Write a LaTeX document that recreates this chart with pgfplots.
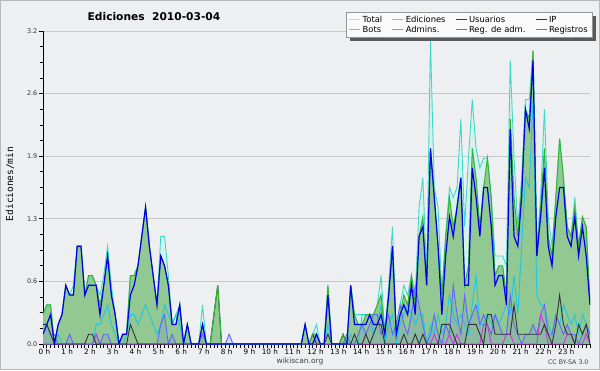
\documentclass[border=0pt]{standalone}
\usepackage{pgfplots}
\pgfplotsset{compat=1.18}
\usepackage{pgfplotstable}
\usepackage{fontspec}
\setmainfont{DejaVu Sans}
\newfontfamily\monofont{DejaVu Sans Mono}
\pgfdeclarelayer{bgl}
\pgfsetlayers{bgl,main}
\definecolor{bg}{RGB}{238,239,241}
\definecolor{framec}{RGB}{185,185,185}
\definecolor{gridc}{RGB}{200,200,200}
\definecolor{legdraw}{RGB}{150,150,150}
\definecolor{legfill}{RGB}{250,250,250}
\definecolor{shadowc}{RGB}{90,90,90}
\definecolor{totline}{RGB}{64,216,200}
\definecolor{totfill}{RGB}{214,242,236}
\definecolor{totleg}{RGB}{170,228,222}
\definecolor{ediline}{RGB}{50,180,50}
\definecolor{edifill}{RGB}{146,201,146}
\definecolor{edileg}{RGB}{130,205,130}
\definecolor{usu}{RGB}{0,0,230}
\definecolor{usuleg}{RGB}{40,40,230}
\definecolor{ipc}{RGB}{50,50,50}
\definecolor{adm}{RGB}{30,200,225}
\definecolor{regc}{RGB}{100,100,255}
\definecolor{regadm}{RGB}{210,50,230}
\definecolor{bots}{RGB}{255,150,50}
\newcommand{\hl}[1]{\llap{#1}\ h}
\pgfplotstableread{
i T E U P A R M
0 0.3 0.3 0.1 0.2 0 0.2 0
1 0.4 0.4 0.2 0.2 0 0.2 0
2 0.4 0.4 0.3 0.1 0 0.1 0
3 0 0 0 0 0 0.1 0
4 0.2 0.2 0.2 0 0.1 0 0
5 0.3 0.3 0.3 0 0 0 0
6 0.6 0.6 0.6 0 0 0 0
7 0.5 0.5 0.5 0 0 0.1 0
8 0.6 0.5 0.5 0 0 0 0
9 1.0 1.0 1.0 0 0 0 0
10 1.0 1.0 1.0 0 0 0 0
11 0.5 0.5 0.5 0 0 0 0
12 0.7 0.7 0.6 0.1 0 0 0
13 0.7 0.7 0.6 0.1 0 0 0
14 0.6 0.6 0.6 0 0.2 0.1 0.1
15 0.5 0.4 0.3 0 0.2 0 0
16 0.7 0.6 0.6 0 0.3 0.1 0
17 1.0 0.9 0.9 0 0.4 0.1 0
18 0.6 0.5 0.5 0 0.2 0 0
19 0.3 0.3 0.3 0 0.1 0 0
20 0 0 0 0 0 0 0
21 0.1 0.1 0.1 0 0 0 0
22 0.1 0.1 0.1 0 0.1 0 0
23 0.7 0.7 0.5 0.2 0.3 0 0
24 0.7 0.7 0.6 0.1 0.3 0 0
25 0.8 0.8 0.8 0 0.2 0 0
26 1.1 1.1 1.1 0 0.3 0 0
27 1.4 1.4 1.4 0 0.4 0 0
28 1.0 1.0 1.0 0 0.3 0 0
29 0.7 0.7 0.7 0 0.2 0 0
30 0.4 0.4 0.4 0 0.1 0 0
31 1.1 0.9 0.9 0 0.2 0.2 0
32 1.1 0.8 0.8 0 0.4 0.3 0
33 0.7 0.6 0.6 0 0.3 0 0
34 0.2 0.2 0.2 0 0.2 0.1 0
35 0.3 0.2 0.2 0 0.3 0 0
36 0.4 0.4 0.4 0 0.2 0 0
37 0 0 0 0 0 0 0
38 0.2 0.2 0.2 0 0 0 0
39 0 0 0 0 0 0 0
40 0 0 0 0 0 0 0
41 0 0 0 0 0 0 0
42 0.4 0.2 0.2 0 0.2 0.1 0
43 0 0 0 0 0 0 0
44 0 0 0 0 0 0 0
45 0.3 0.3 0 0.3 0 0 0
46 0.6 0.6 0 0.6 0 0 0
47 0 0 0 0 0 0 0
48 0 0 0 0 0 0 0
49 0 0 0 0 0 0.1 0
50 0 0 0 0 0 0 0
51 0 0 0 0 0 0 0
52 0 0 0 0 0 0 0
53 0 0 0 0 0 0 0
54 0 0 0 0 0 0 0
55 0 0 0 0 0 0 0
56 0 0 0 0 0 0 0
57 0 0 0 0 0 0 0
58 0 0 0 0 0 0 0
59 0 0 0 0 0 0 0
60 0 0 0 0 0 0 0
61 0 0 0 0 0 0 0
62 0 0 0 0 0 0 0
63 0 0 0 0 0 0 0
64 0 0 0 0 0 0 0
65 0 0 0 0 0 0 0
66 0 0 0 0 0 0 0
67 0 0 0 0 0 0 0
68 0 0 0 0 0 0 0
69 0.2 0.2 0.2 0 0 0 0
70 0 0 0 0 0 0 0
71 0.1 0.1 0 0.1 0 0 0
72 0.2 0.1 0.1 0 0.1 0.1 0
73 0 0 0 0 0 0 0
74 0 0 0 0 0 0 0
75 0.6 0.6 0.5 0.1 0.2 0 0
76 0 0 0 0 0 0 0
77 0 0 0 0 0 0 0
78 0 0 0 0 0 0 0
79 0.1 0.1 0 0.1 0 0 0
80 0 0 0 0 0 0.1 0
81 0.6 0.6 0.6 0 0.1 0 0
82 0.3 0.3 0.2 0.1 0 0 0
83 0.3 0.2 0.2 0 0 0.1 0
84 0.3 0.2 0.2 0 0.3 0.2 0
85 0.3 0.3 0.2 0.1 0.3 0.1 0
86 0.3 0.3 0.3 0 0.3 0.2 0
87 0.3 0.3 0.2 0.1 0.1 0.3 0
88 0.4 0.4 0.2 0.2 0.2 0.3 0
89 0.7 0.5 0.3 0.2 0.4 0.1 0
90 0.1 0.1 0.1 0 0 0.2 0
91 0.6 0.5 0.5 0 0.2 0.3 0
92 1.2 1.0 1.0 0 0.3 0.1 0
93 0.1 0.1 0.1 0 0 0.2 0
94 0.4 0.3 0.3 0 0.2 0.4 0
95 0.6 0.5 0.4 0.1 0.3 0.2 0
96 0.5 0.4 0.3 0 0.4 0.1 0
97 0.7 0.7 0.6 0 0.3 0.3 0
98 0.5 0.4 0.3 0.1 0.2 0.6 0
99 1.4 1.1 1.1 0 0.3 0.4 0
100 1.7 1.3 1.2 0.1 0.3 0.2 0
101 0.7 0.6 0.6 0 0 0 0
102 3.1 2.0 2.0 0 0.2 0.1 0
103 1.6 1.5 1.5 0 0.1 0.3 0.1
104 1.4 1.0 1.0 0 0.3 0.1 0
105 0.5 0.5 0.3 0.2 0.1 0 0
106 1.1 1.1 0.9 0.2 0.2 0.2 0
107 1.6 1.5 1.3 0.2 0.5 0.1 0.1
108 1.5 1.2 1.1 0.1 0.3 0.6 0
109 1.6 1.4 1.4 0 0.2 0.3 0.1
110 2.3 1.7 1.7 0 0.3 0.1 0
111 1.2 0.6 0.6 0 0.2 0.5 0
112 1.9 0.8 0.6 0.2 0.1 0.2 0
113 2.5 2.0 1.8 0.2 0.4 0.3 0
114 2.0 1.7 1.5 0.2 0.7 0.4 0
115 1.8 1.2 1.1 0.1 0.2 0.2 0
116 1.9 1.6 1.6 0 0.2 0.3 0.2
117 1.9 1.9 1.6 0.3 0.3 0.2 0.2
118 1.5 1.5 1.2 0.3 0.2 0.1 0
119 0.9 0.7 0.6 0.1 0.3 0.3 0
120 0.9 0.8 0.7 0.1 0.2 0.2 0
121 0.9 0.8 0.7 0.1 0.3 0.1 0
122 0.8 0.5 0.4 0.1 0.4 0.1 0.1
123 2.9 2.3 2.2 0.1 0.3 0.5 0.1
124 1.9 1.5 1.1 0.4 0.7 0.2 0
125 1.2 1.1 1.0 0.1 0.3 0.1 0
126 1.7 1.6 1.5 0.1 1.0 0 0
127 2.5 2.4 2.4 0.1 1.7 0.1 0
128 2.5 2.3 2.2 0.1 1.6 0.1 0
129 3.0 3.0 2.9 0.1 2.5 0.2 0
130 1.0 0.9 0.9 0.1 0.5 0.1 0
131 1.5 1.4 1.3 0.1 0.4 0.3 0.3
132 2.4 2.0 1.8 0.2 0.4 0.4 0.2
133 1.3 1.1 1.0 0.1 0.2 0.1 0
134 1.0 0.9 0.8 0 0.1 0.1 0
135 1.5 1.5 1.3 0.2 0.3 0.3 0
136 2.1 2.1 1.6 0.5 0.2 0.2 0
137 1.7 1.7 1.6 0.2 0.4 0.1 0
138 1.2 1.2 1.1 0.1 0.3 0.2 0.1
139 1.1 1.1 1.0 0.1 0.2 0.1 0.1
140 1.5 1.4 1.3 0 0.3 0.1 0
141 1.0 1.0 0.9 0.2 0.1 0 0
142 1.3 1.3 1.2 0.1 0.3 0.1 0
143 1.2 1.2 0.9 0.2 0.2 0.2 0.1
144 0.4 0.4 0.4 0 0.1 0.1 0
}\data
\begin{document}
\begin{tikzpicture}[x=1bp,y=1bp]
\begin{pgfonlayer}{bgl}
\fill[bg] (0,0) rectangle (600,370);
\end{pgfonlayer}
\draw[framec, line width=1.2bp] (0.6,0.6) rectangle (599.4,369.4);
\node[font=\fontsize{10.7}{12}\selectfont\bfseries] at (154,353) {Ediciones\ \ 2010-03-04};
\node[font=\monofont\fontsize{9.5}{11}\selectfont, rotate=90] at (10,186) {Ediciones/min};
\node[font=\fontsize{7.5}{9}\selectfont, text=black!75] at (300,9) {wikiscan.org};
\node[font=\fontsize{6.3}{8}\selectfont, text=black!75, anchor=east] at (592,8) {CC BY-SA 3.0};
\begin{axis}[
  at={(43bp,26bp)}, anchor=south west,
  scale only axis, width=547bp, height=313bp,
  xmin=0, xmax=144, ymin=0, ymax=3.2,
  axis lines*=left, axis line style={-, line width=0.9bp, black},
  xtick={0,6,...,138},
  xticklabels={\hl{0},\hl{1},\hl{2},\hl{3},\hl{4},\hl{5},\hl{6},\hl{7},\hl{8},\hl{9},\hl{10},\hl{11},\hl{12},\hl{13},\hl{14},\hl{15},\hl{16},\hl{17},\hl{18},\hl{19},\hl{20},\hl{21},\hl{22},\hl{23}},
  minor xtick={0,...,144},
  ytick={0,0.64,1.28,1.92,2.56,3.2},
  yticklabels={0.0,0.6,1.3,1.9,2.6,3.2},
  minor y tick num=3,
  tick align=outside,
  major tick length=4bp, minor tick length=3.5bp,
  tick style={black, line width=0.8bp},
  xticklabel style={anchor=north west, inner xsep=0pt, inner ysep=0.5bp, font=\fontsize{7.3}{8}\selectfont},
  yticklabel style={inner xsep=1.5bp, font=\fontsize{6.5}{7}\selectfont, text=black!80},
  ymajorgrids, major grid style={gridc, line width=0.8bp},
  legend columns=4,
  legend cell align=left,
  legend style={name=leg, at={(0.554,1.0597)}, anchor=north west, draw=legdraw, fill=legfill,
    font=\fontsize{8.4}{9.5}\selectfont, inner xsep=2.5bp, inner ysep=1.5bp, row sep=-1.8bp,
    /tikz/every even column/.append style={column sep=7.5bp}},
  legend image code/.code={\draw[#1, line width=1bp] (0bp,0bp) -- (11bp,0bp);},
]
\addplot[draw=none, fill=totfill, forget plot] table[x=i,y=T]{\data} \closedcycle;
\addplot[draw=none, fill=edifill, forget plot] table[x=i,y=E]{\data} \closedcycle;
\addplot[draw=none, fill=regc, fill opacity=0.15, forget plot] table[x=i,y=R]{\data} \closedcycle;
\addplot[totline, line width=0.9bp, forget plot] table[x=i,y=T]{\data};
\addplot[adm, line width=0.9bp, forget plot] table[x=i,y=A]{\data};
\addplot[regc, line width=0.9bp, forget plot] table[x=i,y=R]{\data};
\addplot[regadm, line width=0.9bp, forget plot] table[x=i,y=M]{\data};
\addplot[ipc, line width=0.9bp, forget plot] table[x=i,y=P]{\data};
\addplot[ediline, line width=1bp, forget plot] table[x=i,y=E]{\data};
\addplot[usu, line width=1.2bp, forget plot] table[x=i,y=U]{\data};
\addlegendimage{totleg}\addlegendentry{Total}
\addlegendimage{edileg}\addlegendentry{Ediciones}
\addlegendimage{usuleg}\addlegendentry{Usuarios}
\addlegendimage{ipc}\addlegendentry{IP}
\addlegendimage{bots}\addlegendentry{Bots}
\addlegendimage{adm}\addlegendentry{Admins.}
\addlegendimage{regadm}\addlegendentry{Reg. de adm.}
\addlegendimage{regc}\addlegendentry{Registros}
\end{axis}
\begin{pgfonlayer}{bgl}
\fill[shadowc] ([shift={(3.5bp,-3.5bp)}]leg.south west) rectangle ([shift={(3.5bp,-3.5bp)}]leg.north east);
\end{pgfonlayer}
\end{tikzpicture}
\end{document}
